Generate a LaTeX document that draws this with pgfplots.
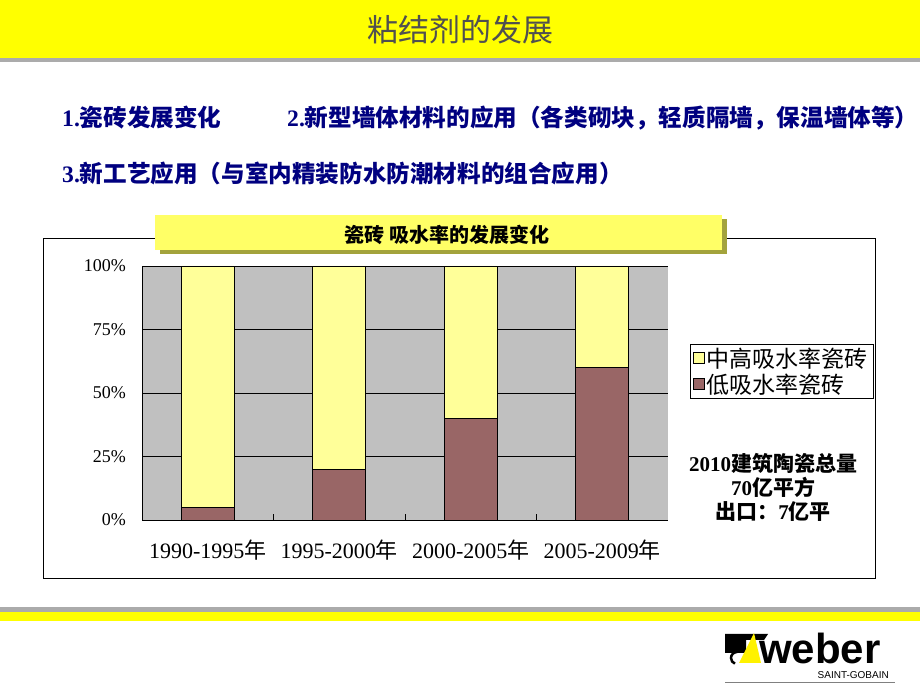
\documentclass[border=0pt]{standalone}
\usepackage{pgfplots}
\pgfplotsset{compat=1.18}
\usepackage{fontspec}
\setmainfont{Liberation Serif}
\newfontfamily\cjk{Noto Sans CJK SC}
\newfontfamily\logofont{Liberation Sans}
\definecolor{titleyellow}{HTML}{FFFF00}
\definecolor{linegray}{HTML}{ABABAB}
\definecolor{titlegray}{HTML}{505050}
\definecolor{navy}{HTML}{000080}
\definecolor{boxyellow}{HTML}{FFFF66}
\definecolor{shadowolive}{HTML}{A3A33C}
\definecolor{plotgray}{HTML}{C0C0C0}
\definecolor{yellowbar}{HTML}{FFFF99}
\definecolor{brownbar}{HTML}{996666}
\begin{document}
\begin{tikzpicture}[x=1pt,y=1pt]
\fill[white] (0,0) rectangle (920,690);
\useasboundingbox (0,0) rectangle (920,690);
% header
\fill[titleyellow] (0,632) rectangle (920,690);
\fill[linegray] (0,628) rectangle (920,632);
\node[text=titlegray, font=\cjk\fontsize{31}{36}\selectfont, inner sep=0pt] at (460,660) {粘结剂的发展};
% footer bands
\fill[linegray] (0,77.5) rectangle (920,82.5);
\fill[titleyellow] (0,68.5) rectangle (920,77.5);
% text lines
\node[anchor=west, text=navy, inner sep=0pt, font=\bfseries\fontsize{23.6}{26}\selectfont] at (62,572) {1.{\cjk 瓷砖发展变化}};
\node[anchor=west, text=navy, inner sep=0pt, font=\bfseries\fontsize{23.6}{26}\selectfont] at (287,572) {2.{\cjk 新型墙体材料的应用（各类砌块，轻质隔墙，保温墙体等）}};
\node[anchor=west, text=navy, inner sep=0pt, font=\bfseries\fontsize{23.6}{26}\selectfont] at (62,517) {3.{\cjk 新工艺应用（与室内精装防水防潮材料的组合应用）}};
% chart frame
\draw[line width=0.8pt] (43.5,112) rectangle (875,451.5);
\fill[shadowolive] (160,436) rectangle (727,471);
\fill[boxyellow] (155,440) rectangle (722,475);
\node[font=\cjk\bfseries\fontsize{20}{24}\selectfont, inner sep=0pt] at (447,455) {瓷砖 吸水率的发展变化};
\begin{axis}[
  at={(142pt,170pt)}, anchor=south west,
  scale only axis, width=526pt, height=254pt,
  ybar stacked, bar width=53pt,
  xmin=-0.5, xmax=3.5, ymin=0, ymax=100,
  axis x line*=bottom, axis y line*=left,
  axis line style={black, line width=0.8pt},
  axis background/.style={fill=plotgray},
  xtick={0,1,2,3},
  xticklabels={1990-1995{\cjk 年},1995-2000{\cjk 年},2000-2005{\cjk 年},2005-2009{\cjk 年}},
  minor xtick={0.5,1.5,2.5},
  tick style={black, line width=0.8pt},
  tick align=inside,
  major tick length=0pt,
  minor tick length=6pt,
  ytick={0,25,50,75,100},
  yticklabels={0\%,25\%,50\%,75\%,100\%},
  ymajorgrids, major grid style={black, line width=0.8pt},
  yticklabel style={font=\fontsize{18}{20}\selectfont, inner sep=0pt, xshift=-16pt},
  xticklabel style={font=\fontsize{22}{24}\selectfont, inner sep=0pt, yshift=-20pt},
  legend style={at={(1.0418,0.693)}, anchor=north west, draw=black, fill=white, line width=0.6pt,
    font=\cjk\fontsize{23}{26}\selectfont, row sep=1pt, inner xsep=3pt, inner ysep=1.5pt},
  legend cell align=left,
  reverse legend,
  legend image code/.code={\draw[#1, line width=0.6pt] (0pt,-5.5pt) rectangle (11pt,5.5pt);},
]
\addplot[fill=brownbar, draw=black, line width=0.8pt] coordinates {(0,5) (1,20) (2,40) (3,60)};
\addplot[fill=yellowbar, draw=black, line width=0.8pt] coordinates {(0,95) (1,80) (2,60) (3,40)};
\legend{低吸水率瓷砖,中高吸水率瓷砖}
\end{axis}
% annotation
\node[font=\bfseries\fontsize{21}{24}\selectfont, align=center, inner sep=0pt] at (773,203) {2010{\cjk 建筑陶瓷总量}\\70{\cjk 亿平方}\\{\cjk 出口：}7{\cjk 亿平}};
% logo
\fill[black] (725,56) -- (768,56) -- (764,50) -- (746,50) -- (746,37) -- (725,37) -- cycle;
\fill[titleyellow!90!orange] (754,57) -- (739,27) -- (761,27) -- cycle;
\draw[black, line width=2.5pt] (737,38) arc (90:250:6);
\node[anchor=base west, font=\logofont\bfseries\fontsize{42}{44}\selectfont, inner sep=0pt, text depth=0pt] at (759,27) {weber};
\node[anchor=base east, font=\logofont\fontsize{10}{12}\selectfont, inner sep=0pt] at (889,12) {SAINT-GOBAIN};
\draw[gray, line width=1pt] (725,7) -- (895,7);
\end{tikzpicture}
\end{document}
